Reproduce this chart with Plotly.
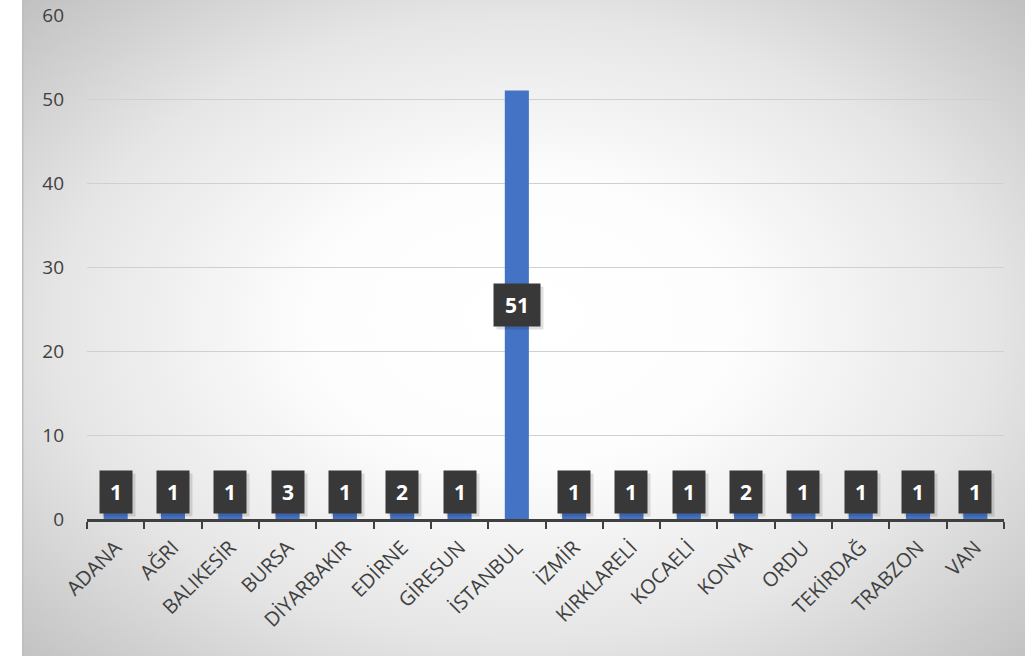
import base64
import plotly.graph_objects as go

cities = ["ADANA", "AĞRI", "BALIKESİR", "BURSA", "DİYARBAKIR", "EDİRNE", "GİRESUN",
          "İSTANBUL", "İZMİR", "KIRKLARELİ", "KOCAELİ", "KONYA", "ORDU", "TEKİRDAĞ",
          "TRABZON", "VAN"]
values = [1, 1, 1, 3, 1, 2, 1, 51, 1, 1, 1, 2, 1, 1, 1, 1]
y_ticks = [0, 10, 20, 30, 40, 50, 60]

W, H = 1025, 656
L, R, T, B = 87, 21, 15, 137
pw, ph = W - L - R, H - T - B

IMG_W, IMG_H = 1003, 670
svg = """<svg xmlns='http://www.w3.org/2000/svg' width='1003' height='670' viewBox='0 0 1003 670' preserveAspectRatio='none'>
<defs><radialGradient id='g' cx='0.5' cy='0.5' r='0.71' fx='0.5' fy='0.47'>
<stop offset='0' stop-color='#ffffff'/><stop offset='0.3' stop-color='#fdfdfd'/>
<stop offset='0.65' stop-color='#e6e6e6'/>
<stop offset='1' stop-color='#c0c0c0'/></radialGradient></defs>
<rect x='0' y='0' width='1003' height='670' fill='url(#g)'/>
<line x1='0.75' y1='0' x2='0.75' y2='670' stroke='#bdbdbd' stroke-width='1.5'/>
</svg>"""
src = "data:image/svg+xml;base64," + base64.b64encode(svg.encode()).decode()

fig = go.Figure()
fig.add_trace(go.Bar(x=cities, y=values, marker=dict(color="#4472C4", line=dict(width=0)),
                     hoverinfo="skip"))

annotations = []
for c, v in zip(cities, values):
    yl = max(v / 2, 3.2)
    w = 30 if v < 10 else 44
    annotations.append(dict(x=c, y=yl, xref="x", yref="y", text=str(v), showarrow=False,
                            font=dict(family="Open Sans", size=21, color="rgba(0,0,0,0)"),
                            bgcolor="rgba(0,0,0,0.12)", width=w, height=40, borderpad=1,
                            xshift=3, yshift=-3))
    annotations.append(dict(x=c, y=yl, xref="x", yref="y", text="<b>%d</b>" % v, showarrow=False,
                            font=dict(family="Open Sans", size=21, color="#ffffff"),
                            bgcolor="#383838", width=w, height=40, borderpad=1))

fig.update_layout(
    width=W, height=H,
    margin=dict(l=L, r=R, t=T, b=B, autoexpand=False),
    paper_bgcolor="#ffffff",
    plot_bgcolor="rgba(0,0,0,0)",
    bargap=0.58,
    showlegend=False,
    font=dict(family="Open Sans", size=20, color="#404040"),
    annotations=annotations,
    images=[dict(source=src, xref="paper", yref="paper",
                 x=(22 - L) / pw, y=(H - B) / ph,
                 sizex=IMG_W / pw, sizey=IMG_H / ph, xanchor="left", yanchor="top",
                 sizing="stretch", layer="below")],
    xaxis=dict(tickangle=-45, showgrid=False, showline=True, linecolor="#404040", linewidth=3,
               ticks="outside", tickson="boundaries", ticklen=7, tickwidth=2, tickcolor="#404040",
               ticklabelstandoff=6, automargin=False,
               tickfont=dict(size=20, color="#404040"), fixedrange=True),
    yaxis=dict(range=[0, 60], tickvals=y_ticks, showgrid=True, gridcolor="#d0d0d0", gridwidth=1,
               zeroline=False, showline=False, ticks="", ticklabelstandoff=22, automargin=False,
               tickfont=dict(size=19, color="#404040"), fixedrange=True),
)

fig.write_html("out.html", config={"displayModeBar": False},
               post_script="document.body.style.margin='0';document.body.style.overflow='hidden';")
